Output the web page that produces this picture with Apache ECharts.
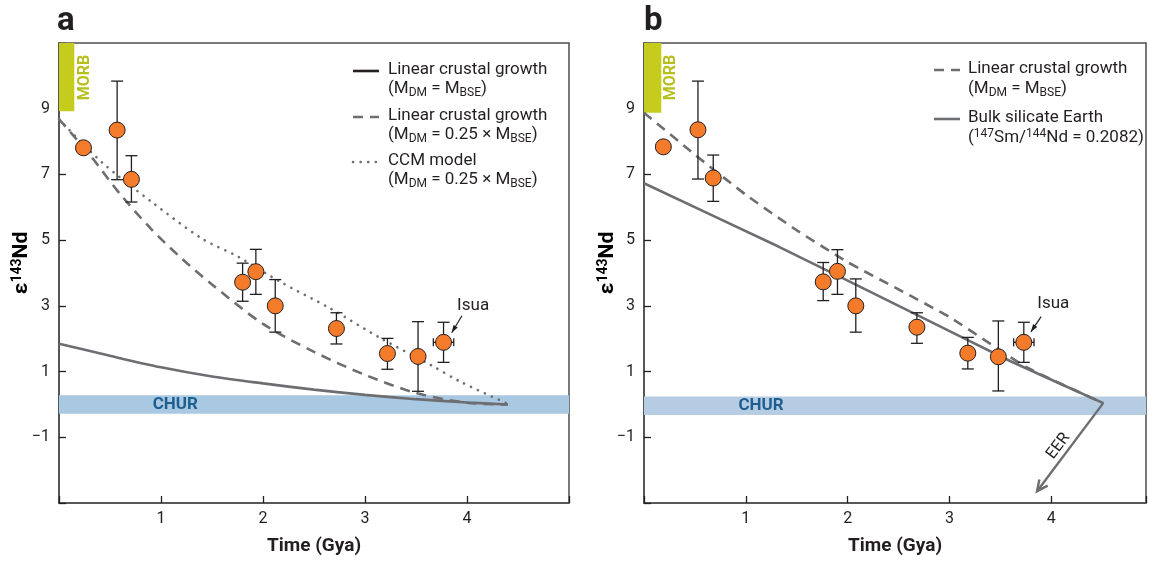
<!DOCTYPE html>
<html><head><meta charset="utf-8">
<script src="https://cdn.jsdelivr.net/npm/echarts@6/dist/echarts.min.js"></script>
<style>html,body{margin:0;padding:0;background:#fff}#c{width:1149px;height:561px}</style>
</head><body><div id="c"></div>
<script>
const FONT = 'Roboto, "Open Sans", sans-serif';
const INK = '#231f20';
const GRAY = '#6d6e71';

// ---- ticks ----
const yTickLabels = [-1, 1, 3, 5, 7, 9];
const xTickLabels = [1, 2, 3, 4];

// ---- panel a : samples ----
const aX    = [0.24, 0.57, 0.71, 1.80, 1.93, 2.12, 2.72, 3.22, 3.52, 3.77];
const aY    = [7.81, 8.35, 6.85, 3.72, 4.04, 3.00, 2.31, 1.55, 1.46, 1.89];
const aYlo  = [null, 6.84, 6.16, 3.14, 3.35, 2.20, 1.84, 1.07, 0.40, 1.28];
const aYhi  = [null, 9.84, 7.57, 4.30, 4.72, 3.80, 2.79, 2.01, 2.52, 2.50];
const aXlo  = [null, null, null, null, null, null, null, null, null, 3.67];
const aXhi  = [null, null, null, null, null, null, null, null, null, 3.87];

// panel a : model curves
const aSolidX = [0, 0.5, 1, 1.5, 2, 2.5, 3, 3.5, 4, 4.4];
const aSolidY = [1.85, 1.48, 1.13, 0.85, 0.64, 0.45, 0.29, 0.16, 0.06, 0.0];
const aDashX  = [0, 0.3, 0.6, 0.9, 1.2, 1.5, 2.0, 2.5, 3.0, 3.5, 4.0, 4.4];
const aDashY  = [8.68, 7.6, 6.4, 5.35, 4.45, 3.65, 2.45, 1.6, 0.9, 0.35, 0.05, 0.0];
const aDotX   = [0, 0.42, 0.91, 1.4, 1.76, 2.17, 2.66, 3.15, 3.64, 3.93, 4.4];
const aDotY   = [8.68, 7.37, 6.16, 5.05, 4.49, 3.73, 2.92, 2.02, 1.21, 0.70, 0.02];

// ---- panel b : samples ----
const bX    = [0.19, 0.53, 0.68, 1.76, 1.90, 2.08, 2.68, 3.18, 3.48, 3.73];
const bY    = [7.84, 8.36, 6.89, 3.73, 4.05, 3.00, 2.35, 1.56, 1.45, 1.89];
const bYlo  = [null, 6.86, 6.18, 3.16, 3.35, 2.20, 1.86, 1.08, 0.41, 1.28];
const bYhi  = [null, 9.84, 7.59, 4.32, 4.71, 3.82, 2.79, 2.04, 2.54, 2.50];
const bXlo  = [null, null, null, null, null, null, null, null, null, 3.63];
const bXhi  = [null, null, null, null, null, null, null, null, null, 3.83];

// panel b : model lines
const bDashX = [0, 0.5, 1.0, 1.5, 2.0, 2.5, 3.0, 3.5, 3.75, 4.0, 4.51];
const bDashY = [8.88, 7.6, 6.38, 5.3, 4.33, 3.5, 2.66, 1.64, 1.14, 0.76, 0.04];
const bBseX  = [0, 1.33, 2.63, 3.61, 4.51];
const bBseY  = [6.73, 4.79, 2.80, 1.30, 0.04];
const eerArrow = [4.51, 0.04, 3.86, -2.64];

// ---- reference bands ----
const churA = [-0.28, 0.28];
const churB = [-0.32, 0.24];
const morbA = [0, 0.15, 8.92, 11];
const morbB = [0, 0.17, 8.88, 11];

// ---- annotations (arrows) ----
const isuaArrowA = [3.95, 2.70, 3.85, 2.18];
const isuaArrowB = [3.90, 2.67, 3.80, 2.21];

const X_MAX_A = 5, X_MAX_B = 4.93, Y_MIN = -3, Y_MAX = 11;

const chart = echarts.init(document.getElementById('c'), null, {renderer: 'canvas'});

function pairs(xs, ys) { return xs.map((x, i) => [x, ys[i]]); }

function xAxis(gi, max) {
  return {
    gridIndex: gi, type: 'value', min: 0, max: max, interval: 1,
    axisLine: {show: true, onZero: false, lineStyle: {color: '#4d4d4f', width: 1.5}},
    axisTick: {show: true, inside: true, length: 7, lineStyle: {color: INK, width: 1.3}},
    axisLabel: {color: INK, fontSize: 16, fontFamily: FONT, margin: 8,
      formatter: v => xTickLabels.includes(v) ? String(v) : ''},
    splitLine: {show: false},
    name: 'Time (Gya)', nameLocation: 'middle', nameGap: 34,
    nameTextStyle: {fontWeight: 'bold', fontSize: 19, color: INK, fontFamily: FONT}
  };
}
function yAxis(gi) {
  return {
    gridIndex: gi, type: 'value', min: Y_MIN, max: Y_MAX, interval: 2,
    axisLine: {show: true, onZero: false, lineStyle: {color: '#4d4d4f', width: 1.5}},
    axisTick: {show: true, inside: true, length: 7, lineStyle: {color: INK, width: 1.3}},
    axisLabel: {color: INK, fontSize: 16, fontFamily: FONT, margin: 9,
      formatter: v => yTickLabels.includes(v) ? (v < 0 ? '\u2212' + Math.abs(v) : String(v)) : ''},
    splitLine: {show: false}
  };
}

function lineSeries(gi, xs, ys, style, smooth) {
  return {
    type: 'line', xAxisIndex: gi, yAxisIndex: gi, data: pairs(xs, ys),
    showSymbol: false, symbol: 'none', smooth: smooth, z: 3, silent: true,
    lineStyle: style
  };
}

function rectSeries(gi, box, color) {
  // box = [x0, x1, y0, y1]
  return {
    type: 'custom', xAxisIndex: gi, yAxisIndex: gi, z: 1, silent: true,
    data: [box],
    renderItem: (p, api) => {
      const a = api.coord([api.value(0), api.value(3)]);
      const b = api.coord([api.value(1), api.value(2)]);
      return {type: 'rect', shape: {x: a[0], y: a[1], width: b[0] - a[0], height: b[1] - a[1]},
        style: {fill: color}};
    }
  };
}

function errSeries(gi, xs, ys, lo, hi, xlo, xhi) {
  return {
    type: 'custom', xAxisIndex: gi, yAxisIndex: gi, z: 4, silent: true,
    data: pairs(xs, ys),
    renderItem: (p, api) => {
      const i = p.dataIndex;
      const ch = [];
      const st = {stroke: INK, lineWidth: 1.3};
      if (lo[i] != null) {
        const t = api.coord([xs[i], hi[i]]), b = api.coord([xs[i], lo[i]]);
        ch.push({type: 'line', shape: {x1: t[0], y1: t[1], x2: b[0], y2: b[1]}, style: st});
        ch.push({type: 'line', shape: {x1: t[0] - 6, y1: t[1], x2: t[0] + 6, y2: t[1]}, style: st});
        ch.push({type: 'line', shape: {x1: b[0] - 6, y1: b[1], x2: b[0] + 6, y2: b[1]}, style: st});
      }
      if (xlo[i] != null) {
        const l = api.coord([xlo[i], ys[i]]), r = api.coord([xhi[i], ys[i]]);
        ch.push({type: 'line', shape: {x1: l[0], y1: l[1], x2: r[0], y2: r[1]}, style: st});
        ch.push({type: 'line', shape: {x1: l[0], y1: l[1] - 4, x2: l[0], y2: l[1] + 4}, style: st});
        ch.push({type: 'line', shape: {x1: r[0], y1: r[1] - 4, x2: r[0], y2: r[1] + 4}, style: st});
      }
      return {type: 'group', children: ch};
    }
  };
}

function pointSeries(gi, xs, ys) {
  return {
    type: 'scatter', xAxisIndex: gi, yAxisIndex: gi, z: 5, silent: true,
    data: pairs(xs, ys), symbol: 'circle', symbolSize: 16,
    itemStyle: {color: '#f47b2a', borderColor: INK, borderWidth: 1, opacity: 1}
  };
}

function arrowSeries(gi, arr, color, width, head, filled) {
  return {
    type: 'custom', xAxisIndex: gi, yAxisIndex: gi, z: 6, silent: true,
    data: [arr],
    renderItem: (p, api) => {
      const a = api.coord([api.value(0), api.value(1)]);
      const b = api.coord([api.value(2), api.value(3)]);
      const ang = Math.atan2(b[1] - a[1], b[0] - a[0]);
      const w = filled ? 0.32 : 0.45;
      const h1 = [b[0] - head * Math.cos(ang - w), b[1] - head * Math.sin(ang - w)];
      const h2 = [b[0] - head * Math.cos(ang + w), b[1] - head * Math.sin(ang + w)];
      const ch = [{type: 'line', shape: {x1: a[0], y1: a[1], x2: b[0], y2: b[1]},
        style: {stroke: color, lineWidth: width}}];
      if (filled) ch.push({type: 'polygon', shape: {points: [b, h1, h2]}, style: {fill: color}});
      else ch.push({type: 'polyline', shape: {points: [h1, b, h2]}, style: {stroke: color, lineWidth: width, fill: null}});
      return {type: 'group', children: ch};
    }
  };
}

function textSeries(gi, x, y, text, style, rotation) {
  return {
    type: 'custom', xAxisIndex: gi, yAxisIndex: gi, z: 7, silent: true,
    data: [[x, y]],
    renderItem: (p, api) => {
      const c = api.coord([api.value(0), api.value(1)]);
      return {type: 'text', x: c[0], y: c[1], rotation: rotation || 0,
        style: Object.assign({text: text, align: 'center', verticalAlign: 'middle', fontFamily: FONT}, style)};
    }
  };
}

const churStyle = {fill: '#1d5f8f', fontSize: 17, fontWeight: 'bold'};
const morbStyle = {fill: '#b7bf1c', fontSize: 16, fontWeight: 'bold'};
const isuaStyle = {fill: INK, fontSize: 17};

const solidStyle = {color: GRAY, width: 2.6, type: 'solid'};
const dashStyle = {color: GRAY, width: 2.6, type: [10, 7]};
const dotStyle = {color: GRAY, width: 2.6, type: [0.1, 7.5], cap: 'round'};

// legend / labels as graphic text
const rich = {
  n: {fontSize: 17, fontFamily: FONT, color: INK, lineHeight: 20},
  s: {fontSize: 12, fontFamily: FONT, color: INK, lineHeight: 10, verticalAlign: 'bottom'},
  p: {fontSize: 12, fontFamily: FONT, color: INK, lineHeight: 10, verticalAlign: 'top'}
};
function gText(x, y, txt) {
  return {type: 'text', left: x, top: y - 10, z: 20,
    style: {text: txt, rich: rich, fill: INK, fontFamily: FONT, fontSize: 17}};
}
function gLine(x1, x2, y, style) {
  return {type: 'line', z: 20, shape: {x1: x1, y1: y, x2: x2, y2: y},
    style: {stroke: style.color, lineWidth: style.width, lineDash: style.type === 'solid' ? null : style.type, lineCap: style.cap || 'butt'}};
}
const yNameRich = {
  e: {fontSize: 21, fontWeight: 'bold', fontFamily: FONT, color: INK, lineHeight: 24},
  sp: {fontSize: 14, fontWeight: 'bold', fontFamily: FONT, color: INK, lineHeight: 13, verticalAlign: 'top'}
};
function yName(cx, cy) {
  return {type: 'text', x: cx, y: cy, rotation: Math.PI / 2, z: 20,
    style: {text: '{e|\u03b5}{sp|143}{e|Nd}', rich: yNameRich, align: 'center', verticalAlign: 'middle'}};
}

const option = {
  animation: false,
  backgroundColor: '#fff',
  grid: [
    {left: 59, top: 43, width: 510, height: 462, show: true, borderColor: '#4d4d4f', borderWidth: 1.5, backgroundColor: 'transparent'},
    {left: 644, top: 43, width: 504, height: 462, show: true, borderColor: '#4d4d4f', borderWidth: 1.5, backgroundColor: 'transparent'}
  ],
  xAxis: [xAxis(0, X_MAX_A), xAxis(1, X_MAX_B)],
  yAxis: [yAxis(0), yAxis(1)],
  series: [
    // panel a
    rectSeries(0, [0, X_MAX_A, churA[0], churA[1]], '#a9c8e1'),
    rectSeries(0, morbA, '#c5cc1e'),
    lineSeries(0, aSolidX, aSolidY, solidStyle, 0.3),
    lineSeries(0, aDashX, aDashY, dashStyle, 0.3),
    lineSeries(0, aDotX, aDotY, dotStyle, 0.3),
    errSeries(0, aX, aY, aYlo, aYhi, aXlo, aXhi),
    pointSeries(0, aX, aY),
    arrowSeries(0, isuaArrowA, INK, 1.2, 8, true),
    textSeries(0, 1.14, 0.0, 'CHUR', churStyle),
    textSeries(0, 0.25, 9.95, 'MORB', morbStyle, Math.PI / 2),
    textSeries(0, 4.06, 3.0, 'Isua', isuaStyle),
    // panel b
    rectSeries(1, [0, X_MAX_B, churB[0], churB[1]], '#b6cce3'),
    rectSeries(1, morbB, '#c5cc1e'),
    lineSeries(1, bDashX, bDashY, dashStyle, 0.15),
    lineSeries(1, bBseX, bBseY, solidStyle, 0.15),
    arrowSeries(1, eerArrow, GRAY, 2.4, 12, false),
    errSeries(1, bX, bY, bYlo, bYhi, bXlo, bXhi),
    pointSeries(1, bX, bY),
    arrowSeries(1, isuaArrowB, INK, 1.2, 8, true),
    textSeries(1, 1.15, -0.04, 'CHUR', churStyle),
    textSeries(1, 0.27, 9.95, 'MORB', morbStyle, Math.PI / 2),
    textSeries(1, 4.02, 3.05, 'Isua', isuaStyle),
    textSeries(1, 4.07, -1.27, 'EER', {fill: INK, fontSize: 16}, 0.93)
  ],
  graphic: [
    {type: 'text', left: 57, top: 5, z: 20, style: {text: 'a', fontSize: 33, fontWeight: 'bold', fill: INK, fontFamily: FONT}},
    {type: 'text', left: 644, top: 5, z: 20, style: {text: 'b', fontSize: 33, fontWeight: 'bold', fill: INK, fontFamily: FONT}},
    yName(22, 263),
    yName(608, 263),
    // legend a
    gLine(353, 379, 71, {color: INK, width: 2.6, type: 'solid'}),
    gText(388, 71, '{n|Linear crustal growth}'),
    gText(388, 90, '{n|(M}{s|DM}{n| = M}{s|BSE}{n|)}'),
    gLine(353, 379, 117, dashStyle),
    gText(388, 117, '{n|Linear crustal growth}'),
    gText(388, 136, '{n|(M}{s|DM}{n| = 0.25 \u00d7 M}{s|BSE}{n|)}'),
    gLine(353, 379, 162, dotStyle),
    gText(388, 162, '{n|CCM model}'),
    gText(388, 181, '{n|(M}{s|DM}{n| = 0.25 \u00d7 M}{s|BSE}{n|)}'),
    // legend b
    gLine(934, 960, 70, dashStyle),
    gText(968, 70, '{n|Linear crustal growth}'),
    gText(968, 90, '{n|(M}{s|DM}{n| = M}{s|BSE}{n|)}'),
    gLine(934, 960, 119, solidStyle),
    gText(968, 119, '{n|Bulk silicate Earth}'),
    gText(968, 138, '{n|(}{p|147}{n|Sm/}{p|144}{n|Nd = 0.2082)}')
  ]
};
chart.setOption(option);
</script>
</body></html>
